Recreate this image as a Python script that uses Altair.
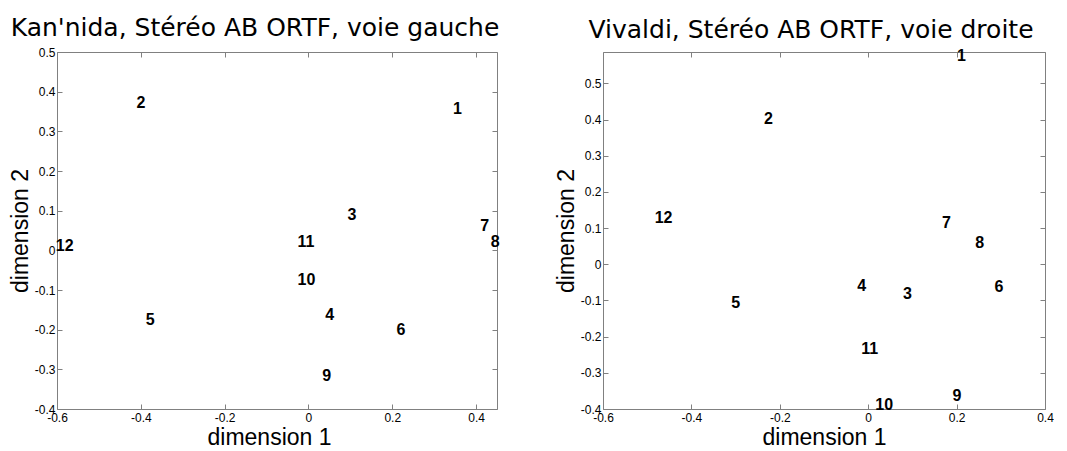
import altair as alt
import pandas as pd

labels = [str(i) for i in range(1, 13)]

kan_x = [0.345, -0.41, 0.093, 0.04, -0.388, 0.21, 0.41, 0.435, 0.033, -0.026, -0.026, -0.603]
kan_y = [0.356, 0.371, 0.089, -0.163, -0.175, -0.2, 0.062, 0.022, -0.316, -0.074, 0.022, 0.012]

viv_x = [0.201, -0.236, 0.079, -0.025, -0.310, 0.286, 0.167, 0.242, 0.191, 0.016, -0.016, -0.483]
viv_y = [0.576, 0.403, -0.083, -0.06, -0.106, -0.062, 0.113, 0.058, -0.364, -0.389, -0.233, 0.129]

x_ticks = [-0.6, -0.4, -0.2, 0.0, 0.2, 0.4]
y_ticks = [-0.4, -0.3, -0.2, -0.1, 0.0, 0.1, 0.2, 0.3, 0.4, 0.5]

LABEL_EXPR = "datum.value == 0 ? '0' : (datum.value < 0 ? '-' : '') + format(abs(datum.value), '.1f')"
FONT = "Liberation Sans"
FRAME = "#808080"


def panel(xs, ys, title, xdom, ydom, width, title_dx, xtitle_x):
    df = pd.DataFrame({"x": xs, "y": ys, "label": labels})
    base = alt.Chart(df)
    xscale = alt.Scale(domain=xdom, nice=False, zero=False)
    yscale = alt.Scale(domain=ydom, nice=False, zero=False)
    common = dict(domain=False, grid=False, tickSize=5, offset=-5, tickColor=FRAME,
                  tickWidth=1, labelFlush=False, labelOverlap=False, minExtent=0)
    text = base.mark_text(align="left", baseline="middle", font=FONT, fontWeight="bold",
                          fontSize=16, color="black").encode(
        x=alt.X("x:Q", scale=xscale,
                axis=alt.Axis(values=x_ticks, labelExpr=LABEL_EXPR, title="dimension 1",
                              labelFont=FONT, labelFontSize=12, labelColor="black",
                              labelPadding=3, titleFont=FONT, titleFontSize=23,
                              titleFontWeight="normal", titleColor="black", titlePadding=3,
                              titleX=xtitle_x, **common)),
        y=alt.Y("y:Q", scale=yscale,
                axis=alt.Axis(values=y_ticks, labelExpr=LABEL_EXPR, title="dimension 2",
                              labelFont=FONT, labelFontSize=12, labelColor="black",
                              labelPadding=2, titleFont=FONT, titleFontSize=23,
                              titleFontWeight="normal", titleColor="black", titlePadding=2,
                              **common)),
        text="label:N",
    )
    mirror = base.mark_point(opacity=0).encode(
        x=alt.X("x:Q", scale=xscale,
                axis=alt.Axis(orient="top", values=x_ticks, labels=False, title=None, **common)),
        y=alt.Y("y:Q", scale=yscale,
                axis=alt.Axis(orient="right", values=y_ticks, labels=False, title=None, **common)),
    )
    return alt.layer(text, mirror).resolve_axis(x="independent", y="independent").properties(
        width=width, height=357,
        title=alt.TitleParams(title, font="DejaVu Sans", fontSize=25, fontWeight="normal",
                              color="black", offset=-15, dx=title_dx, anchor="middle",
                              baseline="alphabetic"),
    )


left = panel(kan_x, kan_y, "Kan'nida, Stéréo AB ORTF, voie gauche",
             [-0.6, 0.45], [-0.4, 0.5], 440, -22, 212)
right = panel(viv_x, viv_y, "Vivaldi, Stéréo AB ORTF, voie droite",
              [-0.6, 0.4], [-0.4, 0.587], 442, -13, 221)

chart = alt.hconcat(left, right, spacing=53).properties(
    padding={"left": 0, "top": 7, "right": 0, "bottom": 0},
    background="white",
).configure_view(stroke=FRAME, strokeWidth=1)

chart.save("out.html", embed_options={"renderer": "svg", "actions": False})
